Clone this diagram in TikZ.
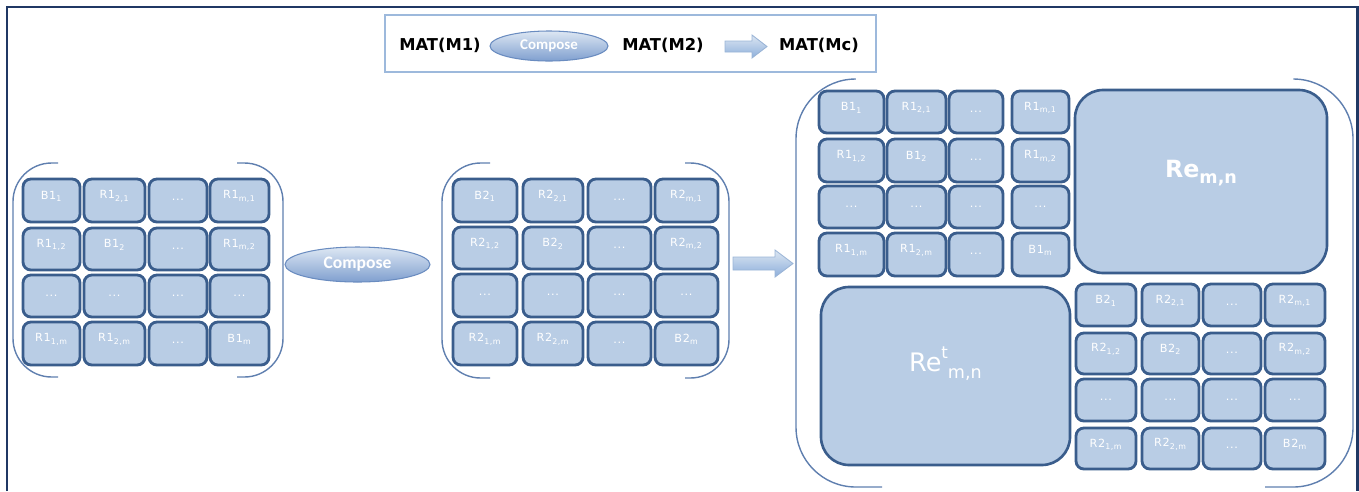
\documentclass[tikz,border=0pt]{standalone}
\usepackage{fontspec}
\setmainfont{DejaVu Sans}
\newfontfamily\calib{Carlito}
\usetikzlibrary{fit,shapes.geometric}
\definecolor{cellfill}{HTML}{B9CDE5}
\definecolor{celldraw}{HTML}{3A5D8C}
\definecolor{brkcol}{HTML}{5F7FAF}
\definecolor{legcol}{HTML}{9DB9DC}
\definecolor{framecol}{HTML}{203864}
\definecolor{elltop}{HTML}{DDE7F3}
\definecolor{ellbot}{HTML}{7F9FCF}
\definecolor{elldraw}{HTML}{6A8CC0}
\definecolor{arrtop}{HTML}{DCE6F2}
\definecolor{arrbot}{HTML}{8DAFDB}
\definecolor{arrdraw}{HTML}{9AB4D6}
\newcommand\idxof[1]{\ifnum#1=4 m\else#1\fi}
\newcommand\celltext[3]{\ifnum#2=3 ...\else\ifnum#3=3 ...\else\ifnum#2=#3 B#1\textsubscript{\idxof{#2}}\else R#1\textsubscript{\idxof{#3},\idxof{#2}}\fi\fi\fi}
\newcommand\mgrid[4]{%
  \foreach \xa/\xb [count=\ci] in {#3}{%
    \foreach \ya/\yb [count=\ri] in {#4}{%
      \node[cellbox, fit={(\xa,\ya)(\xb,\yb)}] (#1-\ri-\ci) {\celltext{#2}{\ri}{\ci}};
    }}}
\begin{document}
\begin{tikzpicture}[x=0.02cm,y=-0.02cm,
  cellbox/.style={draw=celldraw, fill=cellfill, line width=1.6pt, rounded corners=4.5pt,
    inner sep=0pt, text=white, font=\addfontfeature{LetterSpace=6}\fontsize{6.4}{7}\selectfont},
  bigbox/.style={draw=celldraw, fill=cellfill, line width=1.5pt, rounded corners=16pt,
    inner sep=0pt, text=white},
  brk/.style={draw=brkcol, line width=0.8pt, rounded corners=22pt},
  bigbrk/.style={draw=brkcol, line width=0.8pt, rounded corners=34pt},
  composeell/.style={ellipse, draw=elldraw, line width=0.6pt, top color=elltop,
    bottom color=ellbot, text=white, inner sep=0pt},
  legtext/.style={font=\bfseries\fontsize{9.3}{10}\selectfont, text=black},
  blockarrow/.style={draw=arrdraw, line width=0.5pt, top color=arrtop, bottom color=arrbot},
  framel/.style={draw=framecol, line width=1.7pt}
]
\useasboundingbox (0,0) rectangle (1359,491);
% outer frame
\draw[framel] (7,491) -- (7,7) -- (1357,7) -- (1357,491);
% legend
\node[draw=legcol, line width=1.3pt, fit={(385,15)(876,72)}, inner sep=0pt] (legend) {};
\node[legtext] (lm1) at (440,45) {MAT(M1)};
\node[composeell, minimum width=2.36cm, minimum height=0.6cm,
  font=\calib\bfseries\fontsize{8.5}{9}\selectfont] (lcomp) at (549,46) {Compose};
\node[legtext] (lm2) at (663,45) {MAT(M2)};
\draw[blockarrow] (725,41) -- (752,41) -- (752,35) -- (767,46.5) -- (752,58) -- (752,52) -- (725,52) -- cycle;
\node[legtext] (lmc) at (819,45) {MAT(Mc)};
% left matrix
\draw[brk] (58,163) -- (13,163) -- (13,377) -- (58,377);
\draw[brk] (237,163) -- (283,163) -- (283,377) -- (237,377);
\mgrid{a}{1}{23/80,84/145,149/207,210/269}{179/222,228/270,275/317,322/365}
% compose
\node[composeell, minimum width=2.9cm, minimum height=0.7cm,
  font=\calib\bfseries\fontsize{10}{11}\selectfont] (comp) at (357.5,264.5) {Compose};
% middle matrix
\draw[brk] (490,163) -- (442,163) -- (442,378) -- (490,378);
\draw[brk] (685,163) -- (729,163) -- (729,378) -- (685,378);
\mgrid{b}{2}{453/517,523/583,588/651,655/718}{179/222,227/269,274/317,322/365}
% arrow
\draw[blockarrow] (733,257) -- (775,257) -- (775,250) -- (793,263.5) -- (775,277) -- (775,270) -- (733,270) -- cycle;
% right matrix
\draw[bigbrk] (855,79) -- (796,79) -- (796,487) -- (882,487);
\draw[bigbrk] (1297,79) -- (1353,79) -- (1353,487) -- (1265,487);
\mgrid{c}{1}{819/884,887/946,949/1003,1012/1069}{91/133,139/182,186/228,233/276}
\mgrid{d}{2}{1076/1136,1142/1199,1203/1261,1265/1325}{284/326,333/374,379/421,428/469}
\node[bigbox, fit={(1075,90)(1327,273)}] (re) {\fontsize{13.5}{14}\selectfont\bfseries Re\raisebox{-0.45ex}{\fontsize{10}{10}\selectfont m,n}};
\node[bigbox, fit={(821,287)(1070,465)}] (ret) {\fontsize{14.5}{15}\selectfont Re\raisebox{0.9ex}{\fontsize{9.5}{9}\selectfont t}\raisebox{-0.5ex}{\fontsize{10}{10}\selectfont m,n}};
\end{tikzpicture}
\end{document}
